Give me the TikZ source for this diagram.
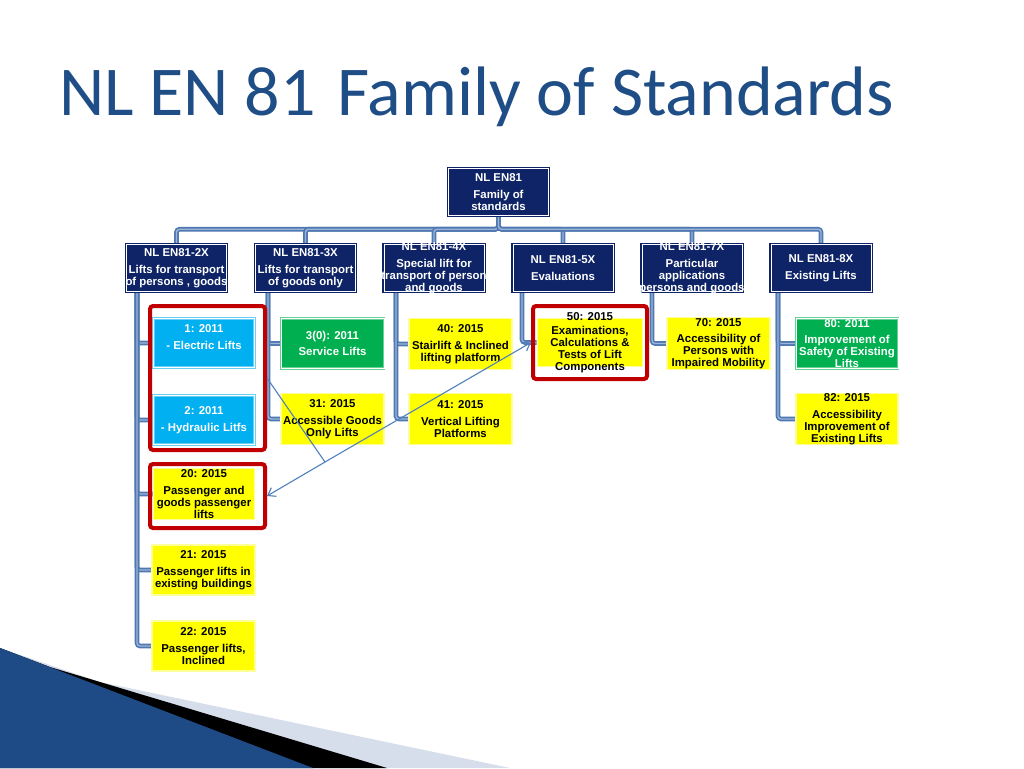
\documentclass[tikz,border=0pt]{standalone}
\usepackage{fontspec}
\setmainfont{Liberation Sans}
\newfontfamily\titlefont{Carlito}
\usetikzlibrary{arrows.meta}
\pgfdeclarelayer{bglayer}
\pgfdeclarelayer{pipelayer}
\pgfsetlayers{bglayer,pipelayer,main}
\definecolor{navy}{HTML}{0F2466}
\definecolor{cyanbox}{HTML}{00B0F0}
\definecolor{greenbox}{HTML}{00B050}
\definecolor{yelbox}{HTML}{FFFF00}
\definecolor{yeledge}{HTML}{FFFF9A}
\definecolor{redframe}{HTML}{C00000}
\definecolor{pipeblue}{HTML}{4F78B0}
\definecolor{pipelight}{HTML}{9BB5DA}
\definecolor{arrowblue}{HTML}{4F81BD}
\definecolor{titleblue}{HTML}{1F4D86}
\definecolor{swgray}{HTML}{D6DEEB}
\definecolor{blueA}{HTML}{1E4A86}
\definecolor{blueB}{HTML}{6592CF}
\begin{document}
\begin{tikzpicture}[x=1pt,y=-1pt,
  boxfont/.style={font=\fontsize{11.4}{11.9}\selectfont\bfseries},
  txw/.style={boxfont, align=center, inner sep=0pt, text=white},
  txk/.style={boxfont, align=center, inner sep=0pt, text=black},
  navybox/.style={rectangle, inner sep=0pt, fill=navy, draw=navy, double=white,
    line width=1.4pt, double distance=0.7pt, minimum width=100pt, minimum height=47pt},
  cbox/.style={rectangle, inner sep=0pt, fill=cyanbox, draw=cyanbox!60!white, double=white,
    line width=0.8pt, double distance=0.6pt, minimum width=101pt, minimum height=49pt},
  gbox/.style={rectangle, inner sep=0pt, fill=greenbox, draw=greenbox!60!white, double=white,
    line width=0.8pt, double distance=0.6pt, minimum width=103pt, minimum height=50pt},
  ybox/.style={rectangle, inner sep=0pt, fill=yelbox, draw=yeledge, line width=1.6pt,
    minimum width=103pt, minimum height=50pt},
  pipe/.style={draw=pipeblue, double=pipelight, line width=1.6pt, double distance=1.4pt,
    rounded corners=3pt},
  rframe/.style={rectangle, draw=redframe, line width=4pt, rounded corners=3pt, inner sep=0pt},
  rthin/.style={draw=redframe, line width=0.7pt},
  conn/.style={draw=arrowblue, line width=1.1pt},
  tip/.style={-{Straight Barb[length=7pt,width=10pt]}}
]
\useasboundingbox (0,0) rectangle (1024,768);
\begin{pgfonlayer}{bglayer}
\fill[white] (0,0) rectangle (1024,768);
% bottom-left swoosh
\fill[swgray] (0,648) -- (100,682) -- (510,768) -- (0,768) -- cycle;
\fill[black] (0,648) -- (50,667) -- (387,768) -- (0,768) -- cycle;
\shade[left color=blueA, middle color=blueB, right color=blueA] (0,648) -- (313,768) -- (0,768) -- cycle;
\end{pgfonlayer}

% title
\node[anchor=base west, inner sep=0pt, text=titleblue,
  font=\titlefont\fontsize{70}{70}\selectfont] (title) at (59,115)
  {NL EN 81\hspace{6pt} Family of Standards};

% root and first level
\node[navybox, label={[txw]center:{NL EN81\\[4.8pt]Family of\\standards}}] (root) at (498.5,192) {};
\node[navybox, label={[txw]center:{NL EN81-2X\\[4.8pt]Lifts for transport\\of persons , goods}}] (n2) at (176.5,268) {};
\node[navybox, label={[txw]center:{NL EN81-3X\\[4.8pt]Lifts for transport\\of goods only}}] (n3) at (305.5,268) {};
\node[navybox, label={[txw]center:{NL EN81-4X\\[4.8pt]Special lift for\\transport of person\\and goods}}] (n4) at (434,268) {};
\node[navybox, label={[txw]center:{NL EN81-5X\\[4.8pt]Evaluations}}] (n5) at (563,268) {};
\node[navybox, label={[txw]center:{NL EN81-7X\\[4.8pt]Particular\\applications\\persons and goods}}] (n7) at (692,268) {};
\node[navybox, label={[txw]center:{NL EN81-8X\\[4.8pt]Existing Lifts}}] (n8) at (821,268) {};

% second level boxes
\node[cbox, label={[txw]center:{1: 2011\\[4.8pt]- Electric Lifts\\~}}] (c1) at (204,343) {};
\node[cbox, label={[txw]center:{2: 2011\\[4.8pt]- Hydraulic Litfs}}] (c2) at (204,420) {};
\node[ybox, minimum width=101pt, minimum height=51pt, label={[txk]center:{20: 2015\\[4.8pt]Passenger and\\goods passenger\\lifts}}] (c20) at (204,494) {};
\node[ybox, label={[txk]center:{21: 2015\\[4.8pt]Passenger lifts in\\existing buildings}}] (c21) at (203.5,570) {};
\node[ybox, label={[txk]center:{22: 2015\\[4.8pt]Passenger lifts,\\Inclined}}] (c22) at (203.5,646) {};
\node[gbox, label={[txw]center:{3(0): 2011\\[4.8pt]Service Lifts}}] (c30) at (332.5,343.5) {};
\node[ybox, minimum height=51pt, label={[txk]center:{31: 2015\\[4.8pt]Accessible Goods\\Only Lifts}}] (c31) at (332.5,419) {};
\node[ybox, minimum height=51pt, label={[txk]center:{40: 2015\\[4.8pt]Stairlift \& Inclined\\lifting platform}}] (c40) at (460.5,344) {};
\node[ybox, minimum height=51pt, label={[txk]center:{41: 2015\\[4.8pt]Vertical Lifting\\Platforms}}] (c41) at (460.5,419) {};
\node[ybox, minimum width=105pt, minimum height=48pt, label={[txk]center:{50: 2015\\[3pt]Examinations,\\Calculations \&\\Tests of Lift\\Components}}] (c50) at (590,342.5) {};
\node[ybox, minimum height=52pt, label={[txk]center:{70: 2015\\[4.8pt]Accessibility of\\Persons with\\Impaired Mobility}}] (c70) at (718.5,343.5) {};
\node[gbox, minimum width=102pt, label={[txw]center:{80: 2011\\[4.8pt]Improvement of\\Safety of Existing\\Lifts}}] (c80) at (847,343.5) {};
\node[ybox, minimum width=102pt, minimum height=51pt, label={[txk]center:{82: 2015\\[4.8pt]Accessibility\\Improvement of\\Existing Lifts}}] (c82) at (847,419) {};

% pipes, behind the boxes
\begin{pgfonlayer}{pipelayer}
\foreach \c in {n2,n3,n4,n5,n7,n8}
  \draw[pipe] (root.south) -- ++(0,13) -| (\c.north);
\foreach \c in {c1,c2,c20,c21,c22}
  \draw[pipe] ([xshift=-39.5pt]n2.south) |- (\c.west);
\foreach \c in {c30,c31}
  \draw[pipe] ([xshift=-37.5pt]n3.south) |- (\c.west);
\foreach \c in {c40,c41}
  \draw[pipe] ([xshift=-38pt]n4.south) |- (\c.west);
\draw[pipe] ([xshift=-41pt]n5.south) |- (c50.west);
\draw[pipe] ([xshift=-40pt]n7.south) |- (c70.west);
\foreach \c in {c80,c82}
  \draw[pipe] ([xshift=-43pt]n8.south) |- (\c.west);
\end{pgfonlayer}

% red frames
\node[rframe, minimum width=115pt, minimum height=144pt] (f12) at (207.5,378) {};
\draw[rthin] ([shift={(3.5,-3.5)}]f12.south west) rectangle ([shift={(-3.5,3.5)}]f12.north east);
\node[rframe, minimum width=115pt, minimum height=64pt] (f20) at (207.5,496) {};
\draw[rthin] ([shift={(3.5,-3.5)}]f20.south west) rectangle ([shift={(-3.5,3.5)}]f20.north east);
\node[rframe, minimum width=114pt, minimum height=73pt] (f50) at (590,342.5) {};
\draw[rthin] ([shift={(3.5,-3.5)}]f50.south west) rectangle ([shift={(-3.5,3.5)}]f50.north east);

% arrows
\coordinate (J) at (325,462);
\draw[conn] (f12.east) -- (J);
\draw[conn, tip] (J) -- (f50.west);
\draw[conn, tip] (J) -- (f20.east);
\end{tikzpicture}
\end{document}
